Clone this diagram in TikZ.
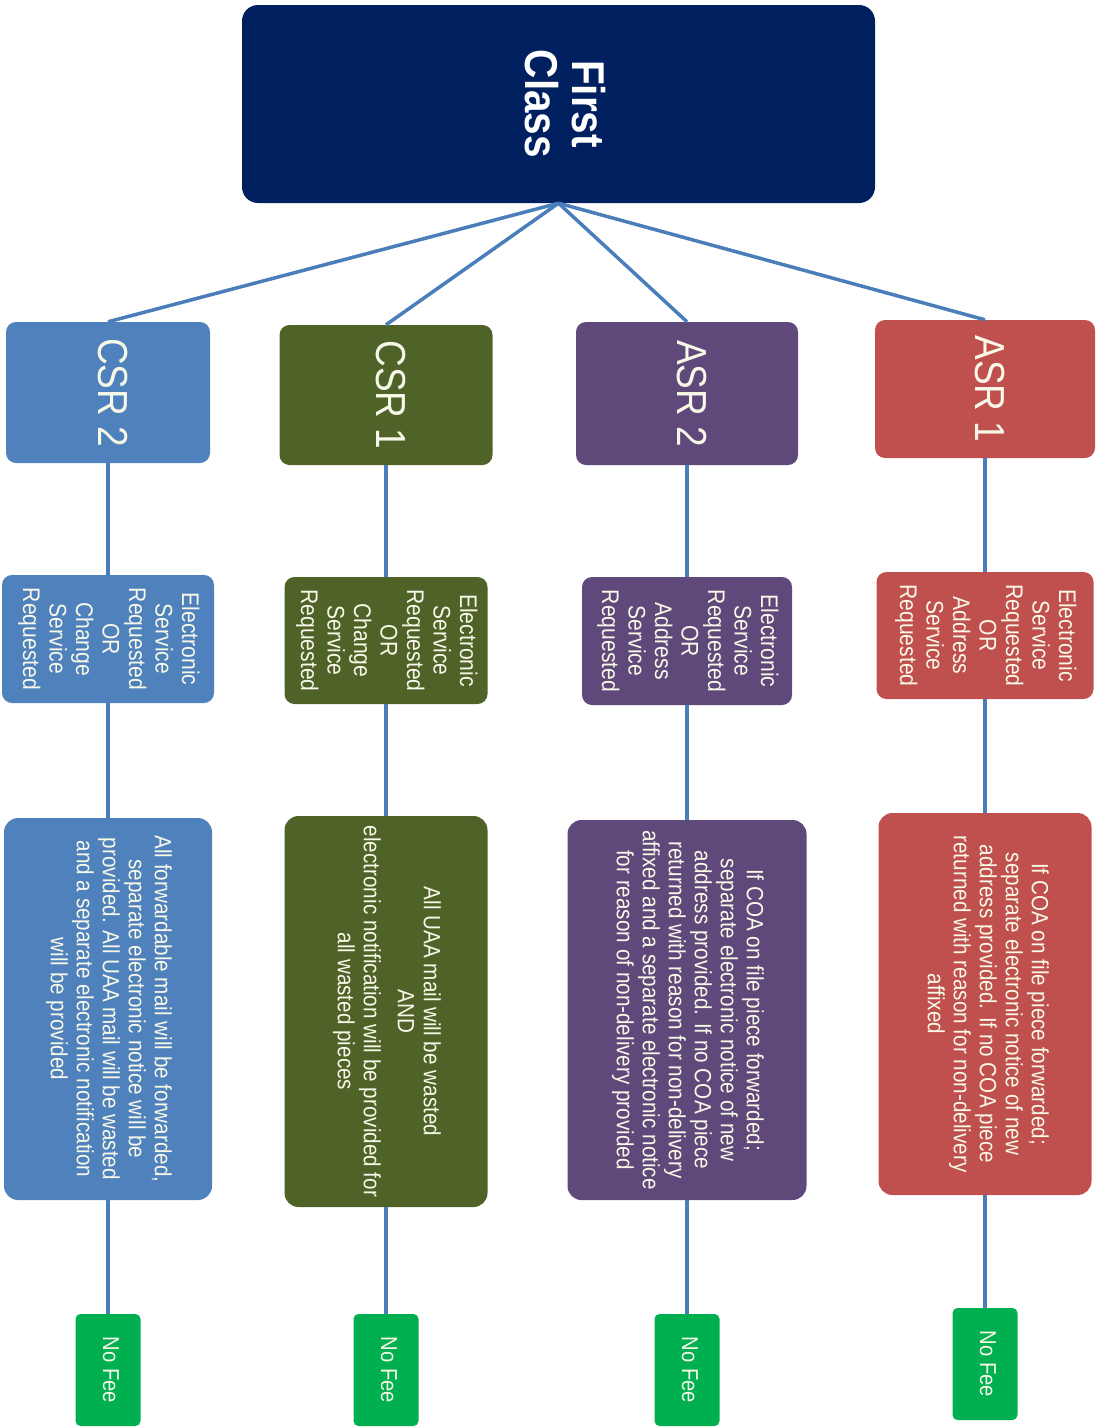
\documentclass[tikz,border=0pt]{standalone}
\usepackage{fontspec}
\usepackage{graphicx}
\setmainfont{Liberation Sans}
\newfontfamily\boxfont[FakeStretch=0.88]{Liberation Sans}
\usetikzlibrary{positioning}

\definecolor{navybox}{RGB}{0,32,96}
\definecolor{csrblue}{RGB}{79,129,189}
\definecolor{csrolive}{RGB}{79,98,40}
\definecolor{asrpurple}{RGB}{95,73,122}
\definecolor{asrred}{RGB}{192,80,77}
\definecolor{feegreen}{RGB}{0,176,80}
\definecolor{linkcol}{RGB}{74,126,187}
\definecolor{txtcol}{RGB}{248,248,232}

\newcommand{\vtext}[1]{\rotatebox{-90}{\begin{tabular}{@{}c@{}}#1\end{tabular}}}

\tikzset{
	box/.style={rounded corners=10pt, inner sep=0pt, text=txtcol},
	topbox/.style={box, rounded corners=16pt, text=white, font={\boxfont\bfseries\fontsize{46}{47}\selectfont}},
	tierA/.style={box, font={\boxfont\fontsize{42}{46}\selectfont}},
	tierB/.style={box, font={\boxfont\fontsize{24}{26.5}\selectfont}},
	tierC/.style={box, rounded corners=14pt, font={\boxfont\fontsize{23.5}{26}\selectfont}},
	feebox/.style={box, rounded corners=5pt, fill=feegreen, minimum width=65pt, minimum height=112pt, font={\boxfont\fontsize{23}{24}\selectfont}},
	link/.style={draw=linkcol, line width=3.5pt},
}

\begin{document}
\begin{tikzpicture}[x=1pt, y=-1pt]%[minimum width=40]
	\useasboundingbox (0,0) rectangle (1118,1427);
	\node[topbox, fill=navybox, minimum width=633pt, minimum height=198pt] (first) at (558.5,104) {\vtext{First\\Class}};

	\node[tierA, fill=csrblue, minimum width=204pt, minimum height=141pt] (csr2a) at (108,392.5) {\vtext{CSR 2}};
	\node[tierA, fill=csrolive, minimum width=213pt, minimum height=140pt] (csr1a) at (386,395) {\vtext{CSR 1}};
	\node[tierA, fill=asrpurple, minimum width=222pt, minimum height=143pt] (asr2a) at (687,393.5) {\vtext{ASR 2}};
	\node[tierA, fill=asrred, minimum width=220pt, minimum height=138pt] (asr1a) at (985,389) {\vtext{ASR 1}};

	\node[tierB, fill=csrblue, minimum width=212pt, minimum height=128pt] (csr2b) at (108,639) {\vtext{Electronic\\Service\\Requested\\OR\\Change\\Service\\Requested}};
	\node[tierB, fill=csrolive, minimum width=203pt, minimum height=127pt] (csr1b) at (386,640.5) {\vtext{Electronic\\Service\\Requested\\OR\\Change\\Service\\Requested}};
	\node[tierB, fill=asrpurple, minimum width=210pt, minimum height=128pt] (asr2b) at (687,641) {\vtext{Electronic\\Service\\Requested\\OR\\Address\\Service\\Requested}};
	\node[tierB, fill=asrred, minimum width=217pt, minimum height=127pt] (asr1b) at (985,635.5) {\vtext{Electronic\\Service\\Requested\\OR\\Address\\Service\\Requested}};

	\node[tierC, fill=csrblue, minimum width=208pt, minimum height=382pt] (csr2c) at (108,1009) {\vtext{All forwardable mail will be forwarded,\\separate electronic notice will be\\provided.  All UAA mail will be wasted\\and a separate electronic notification\\will be provided}};
	\node[tierC, fill=csrolive, minimum width=203pt, minimum height=391pt] (csr1c) at (386,1011.5) {\vtext{All UAA mail will be wasted\\AND\\[8pt]electronic notification will be provided  for\\all wasted pieces}};
	\node[tierC, fill=asrpurple, minimum width=239pt, minimum height=380pt] (asr2c) at (687,1010) {\vtext{If COA on file piece forwarded;\\separate electronic notice of new\\address provided.  If no COA piece\\returned with reason for non-delivery\\affixed and a separate electronic notice\\for reason of non-delivery  provided}};
	\node[tierC, fill=asrred, minimum width=213pt, minimum height=382pt] (asr1c) at (985,1004) {\vtext{If COA on file piece forwarded;\\separate electronic notice of new\\address provided.  If no COA piece\\returned with reason for non-delivery\\affixed}};

	\node[feebox] (csr2d) at (108,1370) {\vtext{No Fee}};
	\node[feebox] (csr1d) at (386,1370) {\vtext{No Fee}};
	\node[feebox] (asr2d) at (687,1370) {\vtext{No Fee}};
	\node[feebox] (asr1d) at (985,1364) {\vtext{No Fee}};

	\foreach \col in {csr2,csr1,asr2,asr1}{
		\draw[link] (first.south) -- (\col a.north);
		\draw[link] (\col a.south) -- (\col b.north);
		\draw[link] (\col b.south) -- (\col c.north);
		\draw[link] (\col c.south) -- (\col d.north);
	}
\end{tikzpicture}
\end{document}
